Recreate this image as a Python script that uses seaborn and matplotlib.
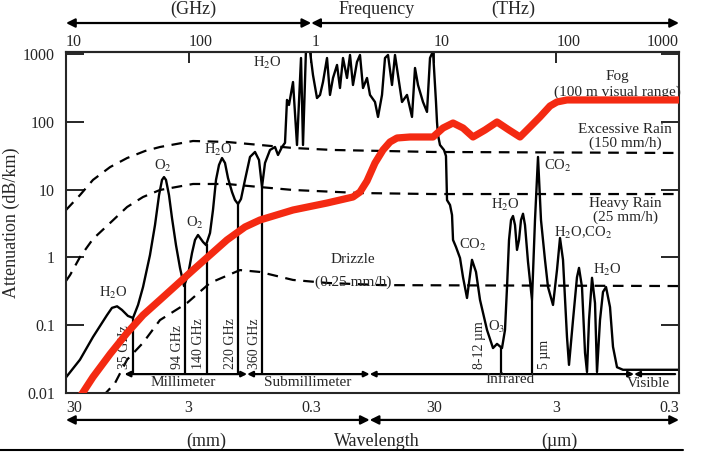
import numpy as np
import pandas as pd
import matplotlib
matplotlib.use("Agg")
import matplotlib.pyplot as plt
import seaborn as sns
from matplotlib.lines import Line2D
from matplotlib.ticker import NullLocator

# frequency in GHz, attenuation in dB/km
gas_f = [10, 13.0, 16.6, 21.6, 23.7, 26.1, 28.6, 32.0, 35.2, 38.7, 42.5, 48.4, 53.2, 57.4,
         60.7, 63.0, 65.4, 69.2, 73.2, 78.9, 85.1, 91.7, 98.9, 106.6, 112.8, 119.3, 131.1,
         138.7, 149.5, 158.1, 167.3, 177.0, 187.3, 198.1, 209.6, 226.0, 238.9, 253.0, 267.5,
         288.4, 316.8, 348.0, 375.2, 396.9, 420.0, 461.3, 506.8, 536.1, 578.0, 611.5, 634.7,
         659, 710.6, 766, 825.8, 857.4, 907, 977.7, 1034, 1115, 1180, 1248, 1346, 1423, 1506,
         1624, 1717, 1817, 1959, 2073, 2192, 2363, 2500, 2646, 2852, 3017, 3314, 3507, 3780,
         3999, 4231, 4561, 4825, 5105, 5504, 6045, 6640, 7026, 7432, 8164, 8801, 9312, 9851,
         10420, 10620, 10820, 11230, 12110, 12570, 12820, 13560, 14080, 14350, 15180, 16360,
         17310, 18660, 19740, 20490, 22090, 23820, 27170, 30400, 32780, 36000, 38080, 39560,
         41070, 42650, 44260, 45960, 47710, 49550, 51440, 53410, 55440, 58660, 63240, 66900,
         70780, 74870, 80700, 85400, 93830, 101100, 107000, 113200, 122000, 126700, 136600,
         147200, 152900, 161700, 171200, 177700, 184500, 195200, 206500, 214400, 226800,
         239900, 253900, 273700, 289500, 312200, 349300, 1e6]
gas_a = [0.017, 0.031, 0.067, 0.141, 0.18, 0.19, 0.168, 0.137, 0.128, 0.199, 0.366, 1.08, 3.0, 8.3,
         13.9, 15.3, 13.9, 8.3, 3.81, 1.52, 0.70, 0.378, 0.55, 1.16, 1.81, 2.14, 1.69,
         1.52, 2.29, 5.0, 13.9, 23.1, 29.2, 24.7, 14.8, 9.2, 7.03, 6.13, 7.27,
         13.9, 30.3, 35.9, 27.3, 10.9, 24.7, 38.4, 42.5, 32.4, 42.5, 49, 210,
         177, 386, 45.5, 873, 45.5, 1200, 1100, 490, 224, 249, 386, 873, 249, 443,
         689, 315, 873, 443, 967, 349, 762, 967, 315, 443, 249, 196, 118, 249,
         873, 967, 349, 967, 490, 196, 249, 118, 622, 349, 196, 140, 873, 1100,
         196, 99, 64, 45.5, 38.4, 31.3, 7.0, 5.93, 4.22, 1.81, 1.42, 0.98,
         0.51, 0.252, 0.55, 0.92, 0.61, 0.236, 0.085, 0.046, 0.053, 0.046, 0.085, 0.366,
         1.81, 3.56, 4.08, 3.0, 1.29, 1.81, 3.56, 4.4, 3.0, 0.86, 0.236, 3.56,
         30.3, 3.56, 0.92, 0.366, 0.199, 0.65, 1.93, 0.92, 0.067, 0.026, 0.119,
         0.51, 0.70, 0.366, 0.039, 0.0204, 0.119, 0.50, 0.212, 0.0204, 0.119,
         0.309, 0.366, 0.185, 0.048, 0.024, 0.022, 0.022]

fog_f = [12.5, 13.8, 16.6, 22.9, 31.5, 42.5, 58.4, 108.6, 205.7, 288.4, 382, 710.6, 1346, 2192,
         2500, 2852, 3314, 3851, 4393, 5012, 6397, 9851, 11890, 14350, 17310, 20880, 26160,
         32780, 41070, 50480, 60920, 73470, 88720, 101100, 122000, 1e6]
fog_a = [0.0079, 0.0103, 0.0172, 0.0376, 0.077, 0.141, 0.236, 0.65, 1.81, 2.81, 3.56, 5.0, 6.34, 7.78,
         9.2, 13.4, 24.7, 38.4, 50.4, 57.7, 59.7, 59.7, 81, 96, 81, 59.7, 75.7,
         99.3, 75.7, 59.7, 83.8, 118, 171, 196, 210, 210]

excessive_f = [10, 13, 16.6, 22.9, 31.5, 44.1, 58.4, 108.6, 205.7, 382, 710.6, 1506, 9851, 1e6]
excessive_a = [5.0, 8.3, 13.9, 21.5, 29.2, 37.1, 42.5, 52.1, 50.4, 45.5, 41.1, 38.4, 35.9, 34.7]

heavy_f = [10, 10.8, 13.0, 16.6, 22.9, 31.5, 42.5, 58.4, 108.6, 205.7, 382, 710.6, 2500, 9851, 1e6]
heavy_a = [0.449, 0.55, 1.01, 1.87, 3.22, 5.54, 7.78, 9.87, 12.1, 12.1, 10.9, 9.87, 8.9, 8.6, 8.6]

drizzle_f = [20.0, 25.1, 31.5, 42.5, 58.4, 97.0, 149.5, 262.5, 382, 710.6, 1346, 3780, 1e6]
drizzle_a = [0.009, 0.014, 0.031, 0.055, 0.119, 0.212, 0.42, 0.65, 0.61, 0.465, 0.42, 0.39, 0.378]

window_f = [35, 94, 140, 253, 397, 35300, 63200]
window_labels = ["35 GHz", "94 GHz", "140 GHz", "220 GHz", "360 GHz", "8-12 µm", "5 µm"]

band_edges = [30, 300, 3000, 430000]
band_end = 930000
band_level = 0.019
band_names = ["Millimeter", "Submillimeter", "Infrared", "Visible"]
band_label_f = [90, 942, 41900, 558000]
band_label_a = [0.0145, 0.0145, 0.016, 0.014]

freq_ticks = [10, 100, 1000, 1e4, 1e5, 1e6]
freq_labels = ["10", "100", "1", "10", "100", "1000"]
wave_labels = ["30", "3", "0.3", "30", "3", "0.3"]
att_ticks = [0.01, 0.1, 1, 10, 100, 1000]
att_labels = ["0.01", "0.1", "1", "10", "100", "1000"]

sns.set_style("white")
plt.rcParams["font.family"] = ["Liberation Serif", "DejaVu Serif"]
plt.rcParams["mathtext.fontset"] = "stix"

fig = plt.figure(figsize=(7.06, 4.53), dpi=100)
ax = fig.add_axes([66 / 706, 1 - 393 / 453, 613 / 706, 341 / 453])
ax.set_xscale("log")
ax.set_yscale("log")

dash = (0, (4.8, 3.4))
sns.lineplot(data=pd.DataFrame({"f": excessive_f, "a": excessive_a}), x="f", y="a", ax=ax,
             color="black", linewidth=1.6, linestyle=dash, estimator=None, sort=False)
sns.lineplot(data=pd.DataFrame({"f": heavy_f, "a": heavy_a}), x="f", y="a", ax=ax,
             color="black", linewidth=1.6, linestyle=dash, estimator=None, sort=False)
sns.lineplot(data=pd.DataFrame({"f": drizzle_f, "a": drizzle_a}), x="f", y="a", ax=ax,
             color="black", linewidth=1.6, linestyle=dash, estimator=None, sort=False)
sns.lineplot(data=pd.DataFrame({"f": gas_f, "a": gas_a}), x="f", y="a", ax=ax,
             color="black", linewidth=1.7, estimator=None, sort=False)
sns.lineplot(data=pd.DataFrame({"f": fog_f, "a": fog_a}), x="f", y="a", ax=ax,
             color="#f42a12", linewidth=5.2, estimator=None, sort=False, zorder=5)

# window lines up to the gaseous curve
tops = 10 ** np.interp(np.log10(window_f), np.log10(gas_f), np.log10(gas_a))
ax.vlines(window_f, band_level, tops, color="black", linewidth=1.6)
for f, lab, dx in zip(window_f, window_labels, [-1, -1, -1, -1, -1, -11, 4]):
    ax.annotate(lab, xy=(f, band_level), xytext=(dx, 4), textcoords="offset points",
                rotation=90, ha="right" if dx < 0 else "left", va="bottom", fontsize=10)

# band line with arrows
seg = dict(arrowstyle="<|-|>", lw=1.6, color="black", mutation_scale=8, shrinkA=0, shrinkB=0)
for a, b in zip(band_edges[:-1], band_edges[1:]):
    ax.annotate("", xy=(b, band_level), xytext=(a, band_level), arrowprops=seg)
ax.annotate("", xy=(band_end, band_level), xytext=(band_edges[-1], band_level),
            arrowprops=dict(seg, arrowstyle="<|-"))
for f, a, name in zip(band_label_f, band_label_a, band_names):
    ax.text(f, a, name, ha="center", va="center", fontsize=11)

# molecule labels
fs = 10.5
ax.text(24.2, 0.30, r"H$_2$O", ha="center", va="center", fontsize=fs)
ax.text(61.8, 22.3, r"O$_2$", ha="center", va="center", fontsize=fs)
ax.text(112.8, 3.22, r"O$_2$", ha="center", va="center", fontsize=fs)
ax.text(173.7, 38.4, r"H$_2$O", ha="center", va="center", fontsize=fs)
ax.text(436, 737, r"H$_2$O", ha="center", va="center", fontsize=fs)
ax.text(103000, 22.3, r"CO$_2$", ha="center", va="center", fontsize=fs)
ax.text(38100, 5.93, r"H$_2$O", ha="center", va="center", fontsize=fs)
ax.text(164800, 2.29, r"H$_2$O,CO$_2$", ha="center", va="center", fontsize=fs)
ax.text(258800, 0.65, r"H$_2$O", ha="center", va="center", fontsize=fs)
ax.text(20880, 1.52, r"CO$_2$", ha="center", va="center", fontsize=fs)
ax.text(32780, 0.094, r"O$_3$", ha="center", va="center", fontsize=fs)

# weather labels
ax.text(2193, 0.92, "Drizzle", ha="center", va="center", fontsize=11)
ax.text(2193, 0.434, "(0.25 mm/h)", ha="center", va="center", fontsize=11)
ax.text(312000, 458, "Fog", ha="center", va="center", fontsize=11)
ax.text(312000, 275, "(100 m visual range)", ha="center", va="center", fontsize=11)
ax.text(363000, 75.7, "Excessive Rain", ha="center", va="center", fontsize=11)
ax.text(363000, 48.7, "(150 mm/h)", ha="center", va="center", fontsize=11)
ax.text(363000, 6.34, "Heavy Rain", ha="center", va="center", fontsize=11)
ax.text(363000, 3.94, "(25 mm/h)", ha="center", va="center", fontsize=11)

ax.set_xlim(10, 1e6)
ax.set_ylim(0.01, 1070)
ax.set_xticks(freq_ticks)
ax.set_xticklabels(wave_labels)
ax.set_yticks(att_ticks)
ax.set_yticklabels(att_labels)
ax.xaxis.set_minor_locator(NullLocator())
ax.yaxis.set_minor_locator(NullLocator())
ax.tick_params(axis="x", direction="in", length=8, width=1.4, pad=5, labelsize=11.5)
ax.tick_params(axis="y", direction="in", length=13, width=1.4, pad=8, labelsize=11.5,
               left=True, right=True)
labs = ax.get_xticklabels()
labs[0].set_ha("left")
labs[-1].set_ha("right")
ax.set_xlabel("")
ax.set_ylabel("Attenuation (dB/km)", fontsize=13)
ax.yaxis.set_label_coords(-0.075, 0.5)
for s in ax.spines.values():
    s.set_linewidth(1.5)

top = ax.secondary_xaxis("top")
top.set_xticks(freq_ticks)
top.set_xticklabels(freq_labels)
top.xaxis.set_minor_locator(NullLocator())
top.tick_params(direction="in", length=8, width=1.4, pad=1.5, labelsize=11.5)
tl = top.get_xticklabels()
for t in tl[:-1]:
    t.set_ha("left")
tl[-1].set_ha("right")
top.spines["top"].set_linewidth(1.5)

# frequency / wavelength arrows outside the box
trans = ax.get_xaxis_transform()
big = dict(arrowstyle="<|-|>", lw=1.6, color="black", mutation_scale=13, shrinkA=0, shrinkB=0)
for a, b, yy in [(10, 1000, 1.085), (1000, 1e6, 1.085), (10, 3000, -0.079), (3000, 1e6, -0.079)]:
    ax.annotate("", xy=(b, yy), xytext=(a, yy), xycoords=trans, textcoords=trans,
                arrowprops=big, annotation_clip=False)
for x, s in [(0.207, "(GHz)"), (0.506, "Frequency"), (0.729, "(THz)")]:
    ax.text(x, 1.126, s, transform=ax.transAxes, ha="center", va="center", fontsize=13)
for x, s in [(0.228, "(mm)"), (0.507, "Wavelength"), (0.805, "(µm)")]:
    ax.text(x, -0.141, s, transform=ax.transAxes, ha="center", va="center", fontsize=13)

fig.add_artist(Line2D([0, 683 / 706], [1 - 450 / 453, 1 - 450 / 453], color="black",
                      linewidth=1.5, transform=fig.transFigure))

fig.savefig("out.png", dpi=100)
